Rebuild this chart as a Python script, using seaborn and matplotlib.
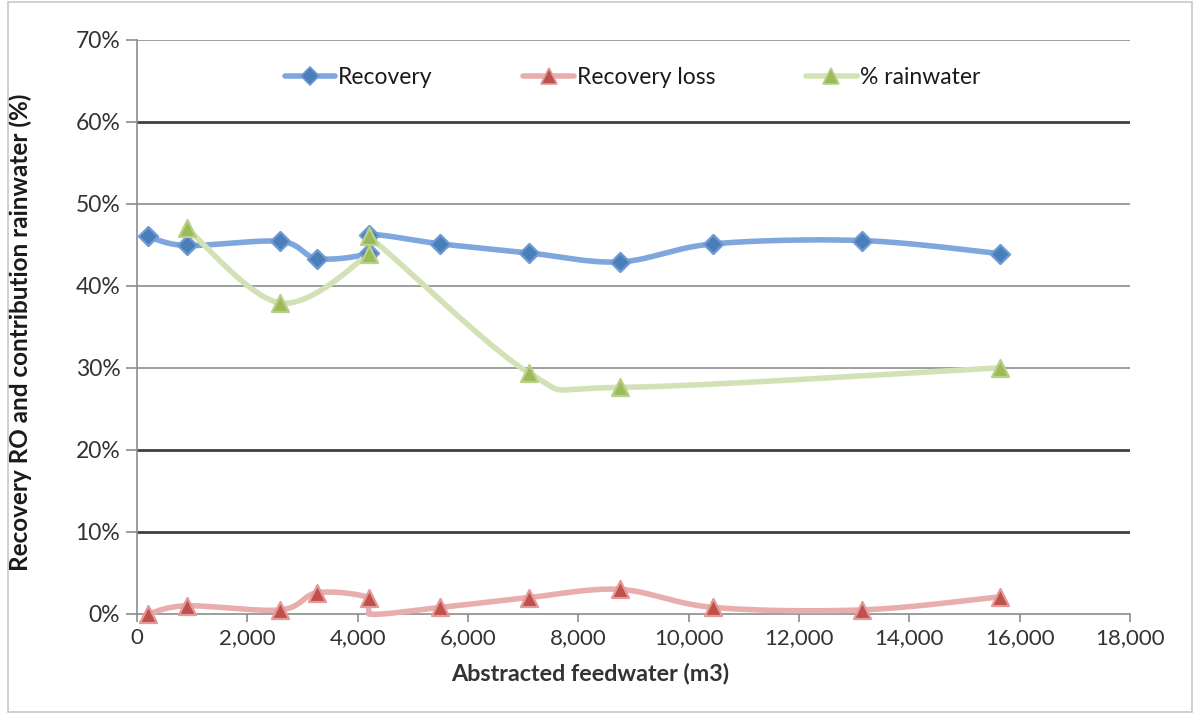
import numpy as np
import pandas as pd
import matplotlib
matplotlib.use("Agg")
import matplotlib.pyplot as plt
from matplotlib.lines import Line2D
from matplotlib.patches import Rectangle
from matplotlib.ticker import FuncFormatter
import seaborn as sns

# Abstracted feedwater volume (m3) for each measurement
feedwater = [200, 900, 2600, 3270, 4200, 4200, 5500, 7100, 8750, 10450, 13150, 15650]

# Series values in percent
recovery = [46.0, 44.9, 45.4, 43.3, 44.0, 46.2, 45.1, 44.0, 42.9, 45.1, 45.5, 43.9]
recovery_loss = [0.0, 1.0, 0.5, 2.6, 2.0, 0.0, 0.8, 2.0, 3.0, 0.8, 0.5, 2.1]
rainwater = [None, 47.0, 37.9, None, 43.9, 46.0, None, 29.4, 27.6, None, None, 30.0]
# marker visibility for the loss series (one point is line-only)
loss_marked = [True, True, True, True, True, False, True, True, True, True, True, True]

series_names = ["Recovery", "Recovery loss", "% rainwater"]
x_ticks = [0, 2000, 4000, 6000, 8000, 10000, 12000, 14000, 16000, 18000]
y_ticks = [0, 10, 20, 30, 40, 50, 60, 70]

line_colors = ["#7FA7DE", "#E8AEAE", "#D3E2B6"]
marker_colors = ["#4A7EBB", "#C0504D", "#9BBB59"]
marker_edges = ["#6F9AD3", "#E39A98", "#B9D08A"]
markers = ["D", "^", "^"]
marker_sizes = [95, 150, 150]

sns.set_theme(style="white")
plt.rcParams["font.family"] = ["Lato", "DejaVu Sans"]

W, H, DPI = 1201, 713, 100
fig = plt.figure(figsize=(W / DPI, H / DPI), dpi=DPI)
ax_l, ax_r, ax_t, ax_b = 137, 1130, 39.5, 614
ax = fig.add_axes([ax_l / W, 1 - ax_b / H, (ax_r - ax_l) / W, (ax_b - ax_t) / H])

xmin, xmax, ymin, ymax = 0, 18000, 0, 70
ax.set_xlim(xmin, xmax)
ax.set_ylim(ymin, ymax)

# scale factors so that the spline is smoothed in screen space
sx = (ax_r - ax_l) / (xmax - xmin)
sy = (ax_b - ax_t) / (ymax - ymin)


def smooth(xs, ys, n=40):
    pts = np.column_stack([np.asarray(xs, float) * sx, np.asarray(ys, float) * sy])
    out = [pts[0]]
    for i in range(len(pts) - 1):
        p1, p2 = pts[i], pts[i + 1]
        t = np.linspace(0, 1, n)[1:, None]
        if abs(p2[0] - p1[0]) < 1e-9:
            # repeated x value: straight vertical step
            out.extend(p1 + (p2 - p1) * t)
            continue
        p0 = pts[i - 1] if i > 0 else pts[i]
        p3 = pts[i + 2] if i + 2 < len(pts) else pts[i + 1]
        c1 = p1 + (p2 - p0) / 6.0
        c2 = p2 - (p3 - p1) / 6.0
        seg = ((1 - t) ** 3) * p1 + 3 * ((1 - t) ** 2) * t * c1 + 3 * (1 - t) * t ** 2 * c2 + t ** 3 * p2
        out.extend(seg)
    out = np.array(out)
    return out[:, 0] / sx, out[:, 1] / sy


# gridlines (some levels render heavier)
for v in y_ticks[1:]:
    heavy = v in (10, 20, 60)
    ax.axhline(v, color="#3F3F3F" if heavy else "#8C8C8C",
               lw=2.0 if heavy else 1.2, zorder=1)

data_sets = [
    (feedwater, recovery, [True] * len(feedwater)),
    (feedwater, recovery_loss, loss_marked),
    (feedwater, rainwater, [True] * len(feedwater)),
]

for k, (xs, ys, marked) in enumerate(data_sets):
    pairs = [(x, y, m) for x, y, m in zip(xs, ys, marked) if y is not None]
    px = [p[0] for p in pairs]
    py = [p[1] for p in pairs]
    cx, cy = smooth(px, py)
    curve = pd.DataFrame({"x": cx, "y": cy})
    sns.lineplot(data=curve, x="x", y="y", sort=False, estimator=None, ax=ax,
                 color=line_colors[k], lw=4.0, zorder=3 + k, solid_capstyle="round",
                 clip_on=False)
    pts = pd.DataFrame({"x": [p[0] for p in pairs if p[2]],
                        "y": [p[1] for p in pairs if p[2]]})
    sns.scatterplot(data=pts, x="x", y="y", ax=ax, marker=markers[k], s=marker_sizes[k],
                    color=marker_colors[k], edgecolor=marker_edges[k], linewidth=1.6,
                    zorder=6 + k, clip_on=False)

ax.set_xticks(x_ticks)
ax.set_yticks(y_ticks)
ax.xaxis.set_major_formatter(FuncFormatter(lambda v, p: f"{int(v):,}"))
ax.yaxis.set_major_formatter(FuncFormatter(lambda v, p: f"{int(v)}%"))
ax.tick_params(axis="x", direction="out", length=6, width=1.2, color="#8C8C8C",
               labelsize=16, labelcolor="#333333", pad=4, bottom=True)
ax.tick_params(axis="y", direction="out", length=8, width=1.2, color="#8C8C8C",
               labelsize=16.5, labelcolor="#333333", pad=4, left=True)

for side in ("top", "right"):
    ax.spines[side].set_visible(False)
for side in ("left", "bottom"):
    ax.spines[side].set_color("#8C8C8C")
    ax.spines[side].set_linewidth(1.2)

ax.set_xlabel("Abstracted feedwater (m3)", fontsize=16.8, fontweight="bold",
              color="#333333")
ax.xaxis.set_label_coords(0.456, -0.085)
ax.set_ylabel("Recovery RO and contribution rainwater (%)", fontsize=17.5,
              fontweight="bold", color="#1A1A1A")
ax.yaxis.set_label_coords(-0.106, 0.49)

handles = [
    Line2D([0], [0], color=line_colors[k], lw=4.0, marker=markers[k],
           markersize=9 if k == 0 else 11, markerfacecolor=marker_colors[k],
           markeredgecolor=marker_edges[k], markeredgewidth=1.2)
    for k in range(3)
]
ax.legend(handles, series_names, loc="upper center", bbox_to_anchor=(0.499, 0.988),
          ncol=3, frameon=False, fontsize=16.5, handlelength=2.2, columnspacing=3.95,
          handletextpad=0.15, labelcolor="#1A1A1A")

# outer chart frame
fig.add_artist(Rectangle((7.5 / W, 1.5 / H), (1192 - 7.5) / W, (711 - 1.5) / H,
                         transform=fig.transFigure, fill=False, ec="#C8C8C8", lw=1.2))

fig.savefig("out.png", dpi=DPI)
